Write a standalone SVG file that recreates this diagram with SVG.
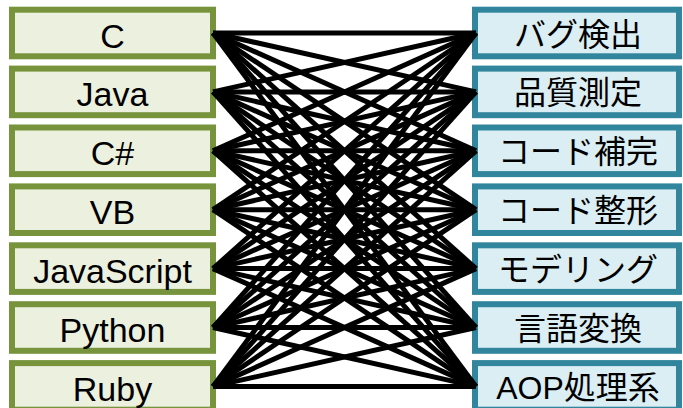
<svg xmlns="http://www.w3.org/2000/svg" width="683" height="408" viewBox="0 0 683 408">
<style>
.l rect{fill:#EBF1DE;stroke:#77933C;stroke-width:6}
.r rect{fill:#DAEEF3;stroke:#31859C;stroke-width:6}
.l text{font-family:"Liberation Sans",Arial,sans-serif;font-size:34px;fill:#000;text-anchor:middle}
.r text{font-family:"Liberation Sans","Noto Sans CJK JP",sans-serif;font-size:32px;fill:#000;text-anchor:middle}
#connectors line{stroke:#000;stroke-width:5}
</style>
<rect width="683" height="408" fill="#fff"/>
<g id="lang-c" class="l"><rect x="12" y="9.7" width="201" height="46.6"/><text x="112.5" y="47.5">C</text></g>
<g id="lang-java" class="l"><rect x="12" y="68.6" width="201" height="46.6"/><text x="112.5" y="106.4">Java</text></g>
<g id="lang-csharp" class="l"><rect x="12" y="127.5" width="201" height="46.6"/><text x="112.5" y="165.3">C#</text></g>
<g id="lang-vb" class="l"><rect x="12" y="186.4" width="201" height="46.6"/><text x="112.5" y="224.2">VB</text></g>
<g id="lang-js" class="l"><rect x="12" y="245.3" width="201" height="46.6"/><text x="112.5" y="283.1">JavaScript</text></g>
<g id="lang-python" class="l"><rect x="12" y="304.2" width="201" height="46.6"/><text x="112.5" y="342">Python</text></g>
<g id="lang-ruby" class="l"><rect x="12" y="363.1" width="201" height="46.6"/><text x="112.5" y="400.9">Ruby</text></g>
<g id="tool-bug" class="r"><rect x="475" y="9.7" width="204" height="46.6"/><text x="578" y="45.5">バグ検出</text></g>
<g id="tool-metrics" class="r"><rect x="475" y="68.6" width="204" height="46.6"/><text x="578" y="104.4">品質測定</text></g>
<g id="tool-completion" class="r"><rect x="475" y="127.5" width="204" height="46.6"/><text x="578" y="163.3">コード補完</text></g>
<g id="tool-format" class="r"><rect x="475" y="186.4" width="204" height="46.6"/><text x="578" y="222.2">コード整形</text></g>
<g id="tool-modeling" class="r"><rect x="475" y="245.3" width="204" height="46.6"/><text x="578" y="281.1">モデリング</text></g>
<g id="tool-translate" class="r"><rect x="475" y="304.2" width="204" height="46.6"/><text x="578" y="340">言語変換</text></g>
<g id="tool-aop" class="r"><rect x="475" y="363.1" width="204" height="46.6"/><text x="578" y="398.9">AOP処理系</text></g>
<g id="connectors">
<line x1="213" y1="33" x2="476" y2="33"/><line x1="213" y1="33" x2="476" y2="91.9"/><line x1="213" y1="33" x2="476" y2="150.8"/><line x1="213" y1="33" x2="476" y2="209.7"/><line x1="213" y1="33" x2="476" y2="268.6"/><line x1="213" y1="33" x2="476" y2="327.5"/><line x1="213" y1="33" x2="476" y2="386.4"/>
<line x1="213" y1="91.9" x2="476" y2="33"/><line x1="213" y1="91.9" x2="476" y2="91.9"/><line x1="213" y1="91.9" x2="476" y2="150.8"/><line x1="213" y1="91.9" x2="476" y2="209.7"/><line x1="213" y1="91.9" x2="476" y2="268.6"/><line x1="213" y1="91.9" x2="476" y2="327.5"/><line x1="213" y1="91.9" x2="476" y2="386.4"/>
<line x1="213" y1="150.8" x2="476" y2="33"/><line x1="213" y1="150.8" x2="476" y2="91.9"/><line x1="213" y1="150.8" x2="476" y2="150.8"/><line x1="213" y1="150.8" x2="476" y2="209.7"/><line x1="213" y1="150.8" x2="476" y2="268.6"/><line x1="213" y1="150.8" x2="476" y2="327.5"/><line x1="213" y1="150.8" x2="476" y2="386.4"/>
<line x1="213" y1="209.7" x2="476" y2="33"/><line x1="213" y1="209.7" x2="476" y2="91.9"/><line x1="213" y1="209.7" x2="476" y2="150.8"/><line x1="213" y1="209.7" x2="476" y2="209.7"/><line x1="213" y1="209.7" x2="476" y2="268.6"/><line x1="213" y1="209.7" x2="476" y2="327.5"/><line x1="213" y1="209.7" x2="476" y2="386.4"/>
<line x1="213" y1="268.6" x2="476" y2="33"/><line x1="213" y1="268.6" x2="476" y2="91.9"/><line x1="213" y1="268.6" x2="476" y2="150.8"/><line x1="213" y1="268.6" x2="476" y2="209.7"/><line x1="213" y1="268.6" x2="476" y2="268.6"/><line x1="213" y1="268.6" x2="476" y2="327.5"/><line x1="213" y1="268.6" x2="476" y2="386.4"/>
<line x1="213" y1="327.5" x2="476" y2="33"/><line x1="213" y1="327.5" x2="476" y2="91.9"/><line x1="213" y1="327.5" x2="476" y2="150.8"/><line x1="213" y1="327.5" x2="476" y2="209.7"/><line x1="213" y1="327.5" x2="476" y2="268.6"/><line x1="213" y1="327.5" x2="476" y2="327.5"/><line x1="213" y1="327.5" x2="476" y2="386.4"/>
<line x1="213" y1="386.4" x2="476" y2="33"/><line x1="213" y1="386.4" x2="476" y2="91.9"/><line x1="213" y1="386.4" x2="476" y2="150.8"/><line x1="213" y1="386.4" x2="476" y2="209.7"/><line x1="213" y1="386.4" x2="476" y2="268.6"/><line x1="213" y1="386.4" x2="476" y2="327.5"/><line x1="213" y1="386.4" x2="476" y2="386.4"/>
</g>
</svg>
